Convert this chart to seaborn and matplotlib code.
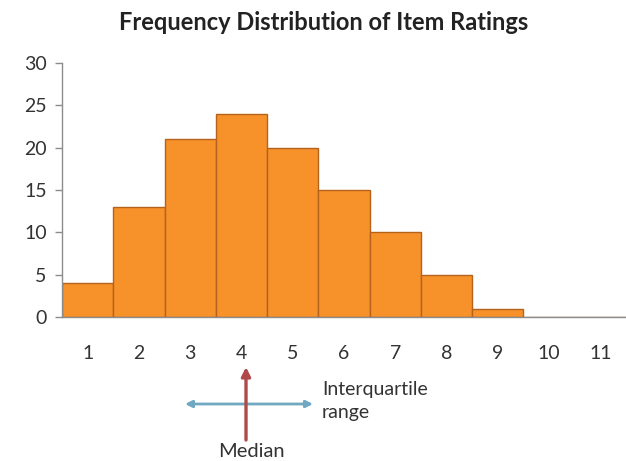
import matplotlib
matplotlib.use("Agg")
import matplotlib.pyplot as plt
import seaborn as sns
import pandas as pd

ratings = ["1", "2", "3", "4", "5", "6", "7", "8", "9", "10", "11"]
counts = [4, 13, 21, 24, 20, 15, 10, 5, 1, 0, 0]
y_ticks = [0, 5, 10, 15, 20, 25, 30]
title = "Frequency Distribution of Item Ratings"

sns.set_theme(style="white")
plt.rcParams["font.family"] = ["Lato", "DejaVu Sans"]

df = pd.DataFrame({"rating": ratings, "count": counts})

fig = plt.figure(figsize=(6.26, 4.61), dpi=100)
ax = fig.add_axes([0.099, 0.312, 0.901, 0.551])

sns.barplot(data=df, x="rating", y="count", order=ratings, color="#F7922A",
            width=1.0, edgecolor="#B5621C", linewidth=1.0, saturation=1, ax=ax)

ax.set_ylim(0, 30)
ax.set_xlim(-0.5, len(ratings) - 0.5)
ax.set_yticks(y_ticks)
ax.set_xlabel("")
ax.set_ylabel("")
for s in ["top", "right"]:
    ax.spines[s].set_visible(False)
for s in ["left", "bottom"]:
    ax.spines[s].set_color("#8C8C8C")
    ax.spines[s].set_linewidth(1.0)
ax.tick_params(axis="y", which="both", left=True, length=5, width=1, color="#8C8C8C",
               labelsize=14, labelcolor="#333333", pad=6)
ax.tick_params(axis="x", bottom=False, labelsize=14, labelcolor="#333333", pad=14)

fig.text(0.517, 0.952, title, ha="center", va="center", fontsize=17,
         fontweight="bold", color="#222222")

# Annotations: interquartile range and median
ax.annotate("", xy=(313 / 626, 1 - 404 / 461), xytext=(185 / 626, 1 - 404 / 461),
            xycoords="figure fraction", textcoords="figure fraction",
            arrowprops=dict(arrowstyle="<|-|>", color="#6FA8C0", lw=2,
                            mutation_scale=10, shrinkA=0, shrinkB=0))
ax.annotate("", xy=(246 / 626, 1 - 367 / 461), xytext=(246 / 626, 1 - 440 / 461),
            xycoords="figure fraction", textcoords="figure fraction",
            arrowprops=dict(arrowstyle="-|>", color="#B04A4A", lw=2.4,
                            mutation_scale=13, shrinkA=0, shrinkB=0))
fig.text(322 / 626, 1 - 401 / 461, "Interquartile\nrange", ha="left", va="center",
         fontsize=14, color="#333333", linespacing=1.4)
fig.text(251 / 626, 1 - 451 / 461, "Median", ha="center", va="center",
         fontsize=14.5, color="#333333")

fig.savefig("out.png", dpi=100)
